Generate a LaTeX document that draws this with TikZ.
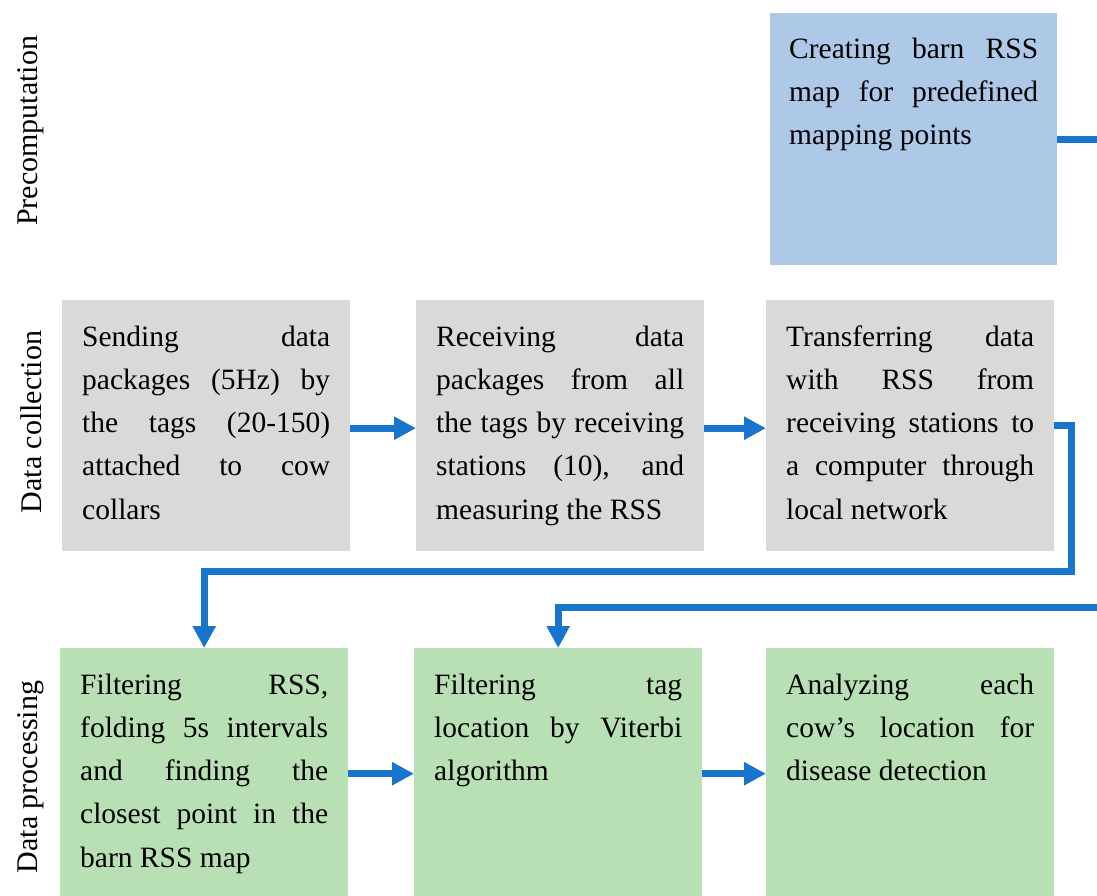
\documentclass[tikz,border=0pt]{standalone}
\usepackage{fontspec}
\setmainfont{Liberation Serif}
\usetikzlibrary{arrows.meta}
\definecolor{preblue}{RGB}{174,200,232}
\definecolor{colgray}{RGB}{217,217,217}
\definecolor{procgreen}{RGB}{185,224,180}
\definecolor{flowblue}{RGB}{24,116,205}
\tolerance=10000
\hbadness=10000

\begin{document}
    \begin{tikzpicture}[x=1pt, y=-1pt,
            box/.style={anchor=north west, text width=248pt, inner xsep=20pt, inner ysep=0pt,
                text height=46pt, text depth=205pt, align=justify,
                font=\fontsize{29.5}{43.2}\selectfont},
            flow/.style={draw=flowblue, line width=7pt, -{Triangle[length=22pt, width=22pt]}},
            rowlabel/.style={rotate=90, inner sep=0pt, font=\fontsize{30}{36}\selectfont}]
        \clip (0,0) rectangle (1097,895);
        \useasboundingbox (0,0) rectangle (1097,895);

        \node[rowlabel] (lblpre) at (31,131) {Precomputation};
        \node[rowlabel] (lblcoll) at (31,422) {Data collection};
        \node[rowlabel] (lblproc) at (31,777) {Data processing};

        \node[box, fill=preblue, text width=249pt, inner xsep=19pt, text height=45pt, text depth=207pt] (barnmap) at (770,13)
            {Creating barn RSS\linebreak map for predefined\linebreak mapping points};

        \node[box, fill=colgray] (sending) at (62,300)
            {Sending data\linebreak packages (5Hz) by\linebreak the tags (20-150)\linebreak attached to cow\linebreak collars};
        \node[box, fill=colgray] (receiving) at (416,300)
            {Receiving data\linebreak packages from all\linebreak the tags by receiving\linebreak stations (10), and\linebreak measuring the RSS};
        \node[box, fill=colgray] (transfer) at (766,300)
            {Transferring data\linebreak with RSS from\linebreak receiving stations to\linebreak a computer through\linebreak local network};

        \node[box, fill=procgreen] (filterrss) at (60,648)
            {Filtering RSS,\linebreak folding 5s intervals\linebreak and finding the\linebreak closest point in the\linebreak barn RSS map};
        \node[box, fill=procgreen] (viterbi) at (414,648)
            {Filtering tag\linebreak location by Viterbi\linebreak algorithm};
        \node[box, fill=procgreen] (analyze) at (766,648)
            {Analyzing each\linebreak cow’s location for\linebreak disease detection};

        \draw[flow] ([yshift=-2.5pt]sending.east) -- ([yshift=-2.5pt]receiving.west);
        \draw[flow] ([yshift=-2.5pt]receiving.east) -- ([yshift=-2.5pt]transfer.west);
        \draw[flow] (transfer.east) -| ++(17,146) -| (filterrss.north);
        \draw[flow] (filterrss.east) -- (viterbi.west);
        \draw[flow] (viterbi.east) -- (analyze.west);
        \draw[flow] (barnmap.east) -| ++(50,468) -| (viterbi.north);
    \end{tikzpicture}
\end{document}
